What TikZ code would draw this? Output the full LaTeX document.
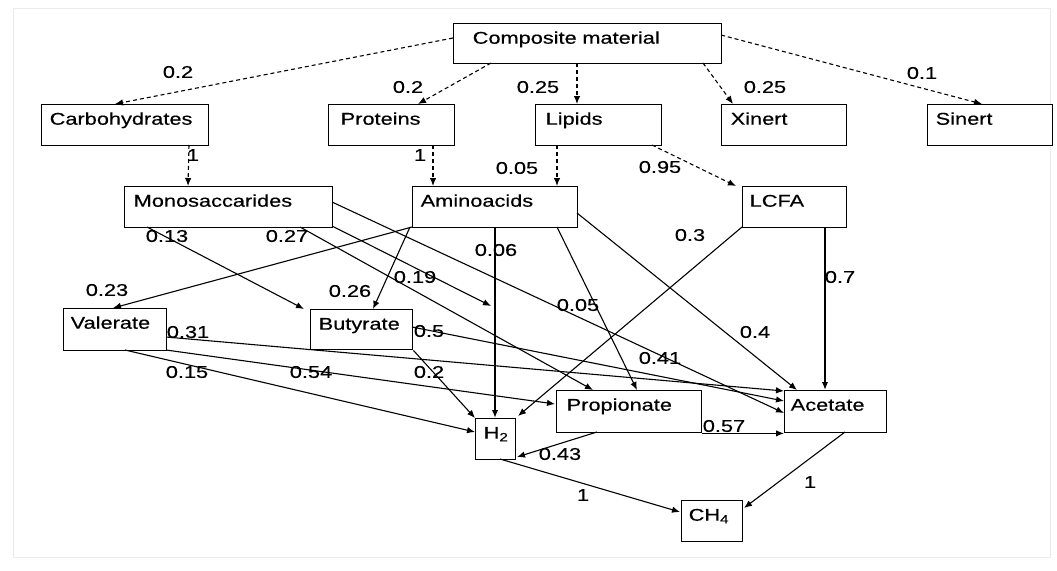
\documentclass[tikz,border=0pt]{standalone}
\usepackage{fontspec}
\setmainfont{Liberation Sans}[FakeStretch=1.28,FakeBold=0.4]
\usetikzlibrary{arrows.meta,calc}
\begin{document}
\begin{tikzpicture}[x=1pt,y=-1pt,
  every node/.style={font=\fontsize{17}{20}\selectfont},
  box/.style={draw, line width=1.4pt, fill=white, anchor=north west, inner ysep=0pt, text height=20pt, align=left},
  lab/.style={inner sep=0pt},
  flow/.style={line width=1.1pt, -{Latex[length=8pt,width=6.5pt]}},
  hyd/.style={flow, dash pattern=on 4pt off 3pt},
  mainflow/.style={flow, line width=2.2pt}
]
\fill[white] (0,0) rectangle (1057,570);
\useasboundingbox (0,0) rectangle (1057,570);
\draw[black!8, line width=1pt] (13,8) rectangle (1050,557);

% boxes
\node[box, text width=230pt, inner xsep=19pt, text depth=20pt] (cm) at (453,23) {Composite material};
\node[box, text width=151pt, inner xsep=8pt, text depth=21pt] (carb) at (41,104) {Carbohydrates};
\node[box, text width=102pt, inner xsep=12pt, text depth=21pt] (prot) at (328,104) {Proteins};
\node[box, text width=106pt, inner xsep=10pt, text depth=21pt] (lip) at (535,104) {Lipids};
\node[box, text width=107pt, inner xsep=9pt, text depth=21pt] (xin) at (721,104) {Xinert};
\node[box, text width=109pt, inner xsep=8pt, text depth=21pt] (sin) at (927,104) {Sinert};
\node[box, text width=190pt, inner xsep=9pt, text depth=21pt] (mono) at (124,186) {Monosaccarides};
\node[box, text width=149pt, inner xsep=8pt, text depth=21pt] (amino) at (412,186) {Aminoacids};
\node[box, text width=90pt, inner xsep=7pt, text depth=21pt] (lcfa) at (742,186) {LCFA};
\node[box, text width=89pt, inner xsep=7pt, text depth=22pt] (val) at (63,308) {Valerate};
\node[box, text width=86pt, inner xsep=8pt, text depth=20pt] (but) at (310,309) {Butyrate};
\node[box, text width=24pt, inner xsep=8pt, text depth=21pt] (h2) at (475,418) {H\textsubscript{2}};
\node[box, text width=125pt, inner xsep=10pt, text depth=22pt] (prop) at (556,390) {Propionate};
\node[box, text width=90pt, inner xsep=6pt, text depth=22pt] (ac) at (784,390) {Acetate};
\node[box, text width=47pt, inner xsep=7pt, text depth=21pt] (ch4) at (681,500) {CH\textsubscript{4}};

\coordinate (h2line) at (491,306);

% disintegration / hydrolysis (dashed)
\draw[hyd] ($(cm.north west)+(0,15)$) -- ($(carb.north west)+(74,0)$);
\draw[hyd] ($(cm.north west)+(38,40)$) -- ($(prot.north west)+(90,0)$);
\draw[hyd] ($(cm.north west)+(124,40)$) -- ($(lip.north west)+(42,0)$);
\draw[hyd] ($(cm.north west)+(250,40)$) -- ($(xin.north west)+(12,0)$);
\draw[hyd] ($(cm.north west)+(268,12)$) -- ($(sin.north west)+(55,0)$);
\draw[hyd] ($(carb.north west)+(148,41)$) -- ($(mono.north west)+(64,0)$);
\draw[hyd] ($(prot.north west)+(105,41)$) -- ($(amino.north west)+(21,0)$);
\draw[hyd] ($(lip.north west)+(22,41)$) -- ($(amino.north west)+(145,0)$);
\draw[hyd] ($(lip.north west)+(117,41)$) -- ($(lcfa.north west)+(-6,0)$);

% acidogenesis / acetogenesis
\draw[flow] ($(mono.north west)+(23,41)$) -- ($(but.north west)+(-6,0)$);
\draw[flow] ($(mono.north west)+(176,41)$) -- ($(prop.north west)+(37,0)$);
\draw[flow] ($(mono.north west)+(208,40)$) -- (h2line);
\draw[flow] ($(mono.north west)+(208,16)$) -- ($(ac.north west)+(0,23)$);
\draw[flow] ($(amino.north west)+(0,41)$) -- ($(val.north west)+(50,0)$);
\draw[flow] ($(amino.north west)+(-2,41)$) -- ($(but.north west)+(63,0)$);
\draw[mainflow] ($(amino.north west)+(83,41)$) -- ($(h2.north west)+(20,0)$);
\draw[flow] ($(amino.north west)+(145,41)$) -- ($(prop.north west)+(81,0)$);
\draw[flow] ($(amino.north west)+(165,27)$) -- ($(ac.north west)+(13,0)$);
\draw[flow] ($(lcfa.north west)+(0,41)$) -- ($(h2.north west)+(43,-2)$);
\draw[mainflow] ($(lcfa.north west)+(83,41)$) -- ($(ac.north west)+(41,0)$);
\draw[flow] ($(val.north west)+(103,29)$) -- ($(ac.north west)+(0,1)$);
\draw[flow] ($(but.north west)+(102,18)$) -- ($(ac.north west)+(0,11)$);
\draw[flow] ($(val.north west)+(103,42)$) -- ($(prop.north west)+(-1,14)$);
\draw[flow] ($(val.north west)+(62,42)$) -- ($(h2.north west)+(0,14)$);
\draw[flow] (but.south east) -- (h2.north west);
\draw[flow] ($(prop.north west)+(41,42)$) -- ($(h2.north west)+(42,39)$);
\draw[flow] (prop.south east) -- (ac.south west);
\draw[flow] ($(h2.north west)+(25,41)$) -- ($(ch4.north west)+(-1,12)$);
\draw[flow] ($(ac.north west)+(61,42)$) -- ($(ch4.north west)+(63,8)$);

% labels
\node[lab] (l1) at (178,72) {0.2};
\node[lab] (l2) at (408,87) {0.2};
\node[lab] (l3) at (538,87) {0.25};
\node[lab] (l4) at (765,87) {0.25};
\node[lab] (l5) at (922,73) {0.1};
\node[lab] (l6) at (193,155) {1};
\node[lab] (l7) at (420,155) {1};
\node[lab] (l8) at (517,168) {0.05};
\node[lab] (l9) at (660,167) {0.95};
\node[lab] (l10) at (167,236) {0.13};
\node[lab] (l11) at (287,236) {0.27};
\node[lab] (l12) at (107,290) {0.23};
\node[lab] (l13) at (350,291) {0.26};
\node[lab] (l14) at (415,277) {0.19};
\node[lab] (l15) at (496,250) {0.06};
\node[lab] (l16) at (578,305) {0.05};
\node[lab] (l17) at (690,235) {0.3};
\node[lab] (l18) at (840,277) {0.7};
\node[lab] (l19) at (755,332) {0.4};
\node[lab] (l20) at (188,332) {0.31};
\node[lab] (l21) at (429,331) {0.5};
\node[lab] (l22) at (660,358) {0.41};
\node[lab] (l23) at (187,372) {0.15};
\node[lab] (l24) at (311,372) {0.54};
\node[lab] (l25) at (429,372) {0.2};
\node[lab] (l26) at (560,454) {0.43};
\node[lab] (l27) at (724,426) {0.57};
\node[lab] (l28) at (583,495) {1};
\node[lab] (l29) at (810,482) {1};
\end{tikzpicture}
\end{document}
